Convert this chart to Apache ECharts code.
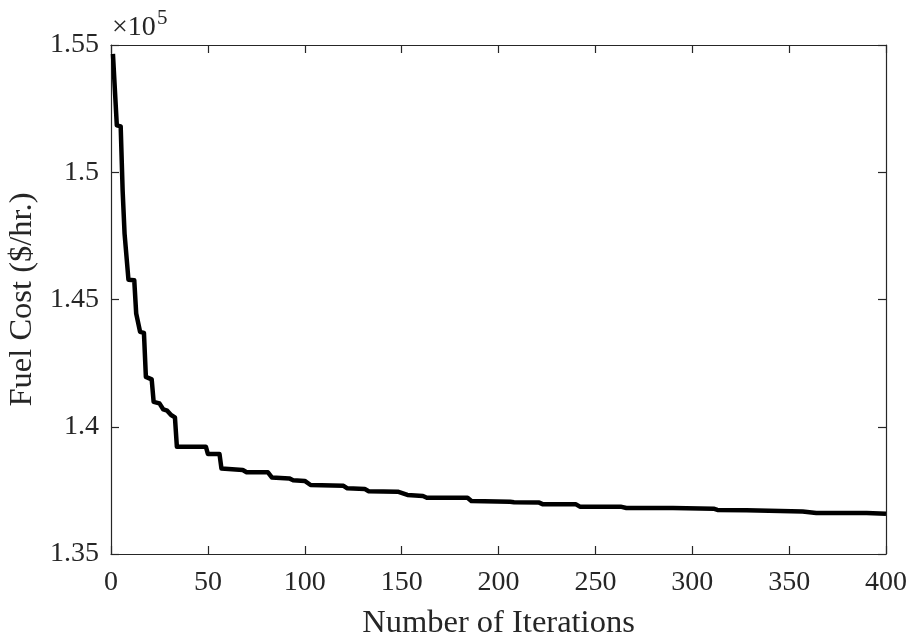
<!DOCTYPE html>
<html>
<head>
<meta charset="utf-8">
<script src="https://cdn.jsdelivr.net/npm/echarts@6/dist/echarts.min.js"></script>
<style>
  html, body { margin: 0; padding: 0; background: #fff; }
  #chart { width: 913px; height: 644px; }
</style>
</head>
<body>
<div id="chart"></div>
<script>
// Convergence of fuel cost over the optimisation run
const iterations = [1, 3, 5, 6, 7, 9, 12, 13, 15, 17, 18, 21, 22, 25, 27, 29, 31, 33, 34, 49, 50, 56, 57, 68, 70, 81, 83, 92, 94, 100, 103, 120, 122, 131, 133, 148, 153, 161, 163, 184, 186, 206, 208, 221, 223, 240, 242, 263, 266, 290, 311, 313, 328, 357, 364, 390, 400];
const fuelCost = [154650, 151840, 151800, 149290, 147590, 145780, 145760, 144450, 143730, 143690, 141960, 141860, 140980, 140920, 140680, 140630, 140460, 140370, 139210, 139210, 138930, 138930, 138360, 138300, 138210, 138210, 138010, 137970, 137900, 137870, 137710, 137680, 137580, 137550, 137470, 137450, 137320, 137280, 137210, 137210, 137080, 137050, 137030, 137020, 136950, 136950, 136860, 136860, 136810, 136810, 136780, 136730, 136720, 136670, 136610, 136610, 136580];
const xTicks = { min: 0, max: 400, step: 50 };
const yTicks = { min: 135000, max: 155000, step: 5000 };
const yScale = 1e5;

const axisColor = '#262626';
const serif = '"Liberation Serif", "DejaVu Serif", serif';

const chart = echarts.init(document.getElementById('chart'), null, { renderer: 'canvas' });

const points = iterations.map((it, i) => [it, fuelCost[i]]);

const baseAxisLine = { show: true, onZero: false, lineStyle: { color: axisColor, width: 1.2 } };
const baseTick = { show: true, inside: true, length: 8, lineStyle: { color: axisColor, width: 1.2 } };

chart.setOption({
  animation: false,
  backgroundColor: '#ffffff',
  grid: { left: 111, right: 27, top: 45, bottom: 90, containLabel: false, outerBoundsMode: 'none' },
  xAxis: [
    {
      type: 'value', min: xTicks.min, max: xTicks.max, interval: xTicks.step,
      position: 'bottom',
      axisLine: baseAxisLine, axisTick: baseTick, splitLine: { show: false },
      axisLabel: { color: axisColor, fontFamily: serif, fontSize: 28, margin: 15 },
      name: 'Number of Iterations', nameLocation: 'middle', nameGap: 53,
      nameTextStyle: { color: axisColor, fontFamily: serif, fontSize: 32.5 }
    },
    {
      type: 'value', min: xTicks.min, max: xTicks.max, interval: xTicks.step,
      position: 'top',
      axisLine: baseAxisLine, axisTick: baseTick, splitLine: { show: false },
      axisLabel: { show: false }
    }
  ],
  yAxis: [
    {
      type: 'value', min: yTicks.min, max: yTicks.max, interval: yTicks.step,
      position: 'left',
      axisLine: baseAxisLine, axisTick: baseTick, splitLine: { show: false },
      axisLabel: {
        color: axisColor, fontFamily: serif, fontSize: 28, margin: 12,
        formatter: v => String(parseFloat((v / yScale).toFixed(2)))
      },
      name: 'Fuel Cost ($/hr.)', nameLocation: 'middle', nameGap: 68, nameRotate: 90,
      nameTextStyle: { color: axisColor, fontFamily: serif, fontSize: 32.5 }
    },
    {
      type: 'value', min: yTicks.min, max: yTicks.max, interval: yTicks.step,
      position: 'right',
      axisLine: baseAxisLine, axisTick: baseTick, splitLine: { show: false },
      axisLabel: { show: false }
    }
  ],
  graphic: [
    {
      type: 'text', left: 112, top: 14,
      style: { text: '×10', fill: axisColor, font: '28px ' + serif }
    },
    {
      type: 'text', left: 157, top: 8,
      style: { text: '5', fill: axisColor, font: '21px ' + serif }
    }
  ],
  series: [
    {
      type: 'line',
      xAxisIndex: 0, yAxisIndex: 0,
      data: points,
      showSymbol: false,
      symbol: 'none',
      lineStyle: { color: '#000000', width: 4.5, join: 'round' },
      z: 3
    }
  ]
});
</script>
</body>
</html>
